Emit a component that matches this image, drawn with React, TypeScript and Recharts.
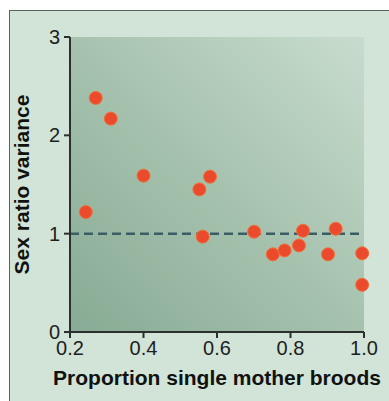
import {
  ScatterChart, Scatter, XAxis, YAxis, ReferenceLine, ReferenceArea,
} from 'recharts'

// proportion of single-mother broods vs sex ratio variance
const singleMotherProp = [
  0.243, 0.270, 0.311, 0.400, 0.552, 0.581, 0.561, 0.701,
  0.752, 0.784, 0.823, 0.834, 0.902, 0.923, 0.995, 0.995,
]
const sexRatioVariance = [
  1.22, 2.38, 2.17, 1.59, 1.45, 1.58, 0.97, 1.02,
  0.79, 0.83, 0.88, 1.03, 0.79, 1.05, 0.80, 0.48,
]
const xTicks = [0.2, 0.4, 0.6, 0.8, 1.0]
const yTicks = [0, 1, 2, 3]

const points = singleMotherProp.map((x, i) => ({ x, y: sexRatioVariance[i] }))

const tickStyle = { fill: '#1c211e', fontSize: 20, fontFamily: 'Liberation Sans, Arial, sans-serif' }
const titleStyle = { fill: '#101210', fontSize: 21, fontWeight: 700, fontFamily: 'Liberation Sans, Arial, sans-serif' }

function Dot(props: any) {
  const { cx, cy } = props
  return <circle cx={cx} cy={cy} r={6.5} fill="#ec4a2c" stroke="#f0703a" strokeWidth={1} />
}

export default function App() {
  return (
    <div style={{ position: 'absolute', left: 0, top: 0, width: 389, height: 401, background: '#fff', overflow: 'hidden' }}>
      {/* panel frame, cropped at right/bottom */}
      <div style={{
        position: 'absolute', left: 9, top: 10, width: 400, height: 420,
        borderLeft: '1.5px solid #5c625e', borderTop: '1.5px solid #5c625e', background: '#d2e4d8',
      }} />
      <ScatterChart
        width={389}
        height={401}
        style={{ position: 'absolute', left: 0, top: 0 }}
        margin={{ top: 37, right: 25, bottom: 0, left: 0 }}
      >
        <defs>
          <linearGradient id="plotBg" x1="0" y1="1" x2="1" y2="0">
            <stop offset="0%" stopColor="#87ab94" />
            <stop offset="50%" stopColor="#a6c2ae" />
            <stop offset="100%" stopColor="#c8dccd" />
          </linearGradient>
        </defs>
        <XAxis
          type="number"
          dataKey="x"
          domain={[0.2, 1.0]}
          ticks={xTicks}
          tickFormatter={(v: number) => v.toFixed(1)}
          height={69}
          tickSize={6}
          tickMargin={3}
          stroke="#2b2f2d"
          strokeWidth={2}
          tick={tickStyle}
          label={{ value: 'Proportion single mother broods', position: 'insideBottom', offset: 16, style: titleStyle }}
        />
        <YAxis
          type="number"
          dataKey="y"
          domain={[0, 3]}
          ticks={yTicks}
          width={70}
          tickSize={6}
          tickMargin={4}
          stroke="#2b2f2d"
          strokeWidth={2}
          tick={tickStyle}
          label={{ value: 'Sex ratio variance', angle: -90, position: 'insideLeft', offset: 22, style: { ...titleStyle, textAnchor: 'middle' } }}
        />
        <ReferenceArea x1={0.2} x2={1.0} y1={0} y2={3} fill="url(#plotBg)" fillOpacity={1} stroke="none" />
        <ReferenceLine y={1} stroke="#3b5e66" strokeWidth={2.5} strokeDasharray="9 5" />
        <Scatter data={points} shape={Dot} isAnimationActive={false} />
      </ScatterChart>
    </div>
  )
}
